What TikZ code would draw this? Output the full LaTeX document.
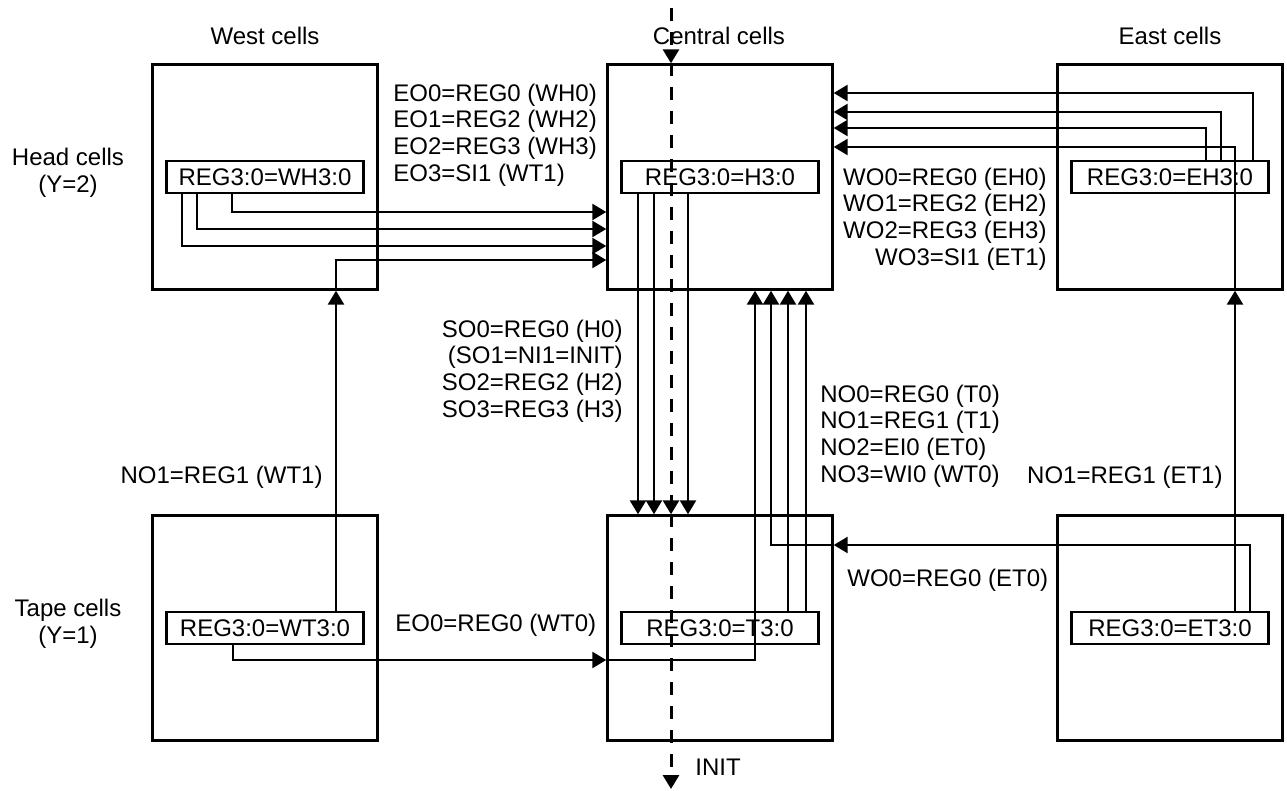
\documentclass[tikz,border=0pt]{standalone}
\usepackage{fontspec}
\setmainfont{Liberation Sans}
\usepackage{tikz}
\usetikzlibrary{arrows.meta, calc}
\tikzset{
  cellbox/.style={
    draw, line width=1.2pt, minimum width=112.5pt, minimum height=112.5pt
  },
  regbox/.style={
    draw, line width=1.2pt, minimum width=98.5pt, minimum height=16pt,
    inner sep=0pt, font=\fontsize{12}{13.4}\selectfont
  },
  wirearrow/.style={
    -{Triangle[length=7pt,width=8pt]}, line width=1.3pt
  },
  initarrow/.style={
    -{Triangle[length=7pt,width=8pt]}, line width=1.5pt,
    dash pattern=on 6.5pt off 5.5pt
  },
  wirelabel/.style={
    font=\fontsize{12}{13.4}\selectfont, inner sep=0pt
  },
}

\begin{document}
\begin{tikzpicture}[x=0.5pt, y=-0.5pt]
  \useasboundingbox (0,0) rectangle (1287,791);

  % Cells
  \node[cellbox] (whead) at (265,177) {};
  \node[cellbox] (chead) at (720,177) {};
  \node[cellbox] (ehead) at (1170,177) {};
  \node[cellbox] (wtape) at (265,628) {};
  \node[cellbox] (ctape) at (720,628) {};
  \node[cellbox] (etape) at (1170,628) {};

  % Registers
  \node[regbox] (whreg) at (whead.center) {REG3:0=WH3:0};
  \node[regbox] (chreg) at (chead.center) {REG3:0=H3:0};
  \node[regbox] (ehreg) at (ehead.center) {REG3:0=EH3:0};
  \node[regbox] (wtreg) at (wtape.center) {REG3:0=WT3:0};
  \node[regbox] (ctreg) at (ctape.center) {REG3:0=T3:0};
  \node[regbox] (etreg) at (etape.center) {REG3:0=ET3:0};

  % Row and column titles
  \node[wirelabel] (wtitle) at (265,36) {West cells};
  \node[wirelabel] (ctitle) at (719,36) {Central cells};
  \node[wirelabel] (etitle) at (1170,36) {East cells};
  \node[wirelabel, align=center] (htitle) at (68,173) {Head cells\\(Y=2)};
  \node[wirelabel, align=center] (ttitle) at (68,624) {Tape cells\\(Y=1)};

  % West head -> central head
  \draw[wirearrow] ($(whreg.south)+(-33,0)$) |- ($(chead.west)+(0,35)$);
  \draw[wirearrow] ($(whreg.south)+(-68,0)$) |- ($(chead.west)+(0,52)$);
  \draw[wirearrow] ($(whreg.south)+(-83,0)$) |- ($(chead.west)+(0,69)$);
  \draw[wirearrow] ($(whead.south)+(71,0)$) |- ($(chead.west)+(0,83)$);
  \node[wirelabel, align=left, anchor=west] (eolabel) at (393,135)
    {EO0=REG0 (WH0)\\EO1=REG2 (WH2)\\EO2=REG3 (WH3)\\EO3=SI1 (WT1)};

  % East head -> central head
  \draw[wirearrow] ($(ehreg.north)+(83,0)$) |- ($(chead.east)+(0,-84)$);
  \draw[wirearrow] ($(ehreg.north)+(51,0)$) |- ($(chead.east)+(0,-65)$);
  \draw[wirearrow] ($(ehreg.north)+(36,0)$) |- ($(chead.east)+(0,-49)$);
  \draw[wirearrow] ($(ehead.south)+(65,0)$) |- ($(chead.east)+(0,-30)$);
  \node[wirelabel, align=right, anchor=east] (wolabel) at (1047,219)
    {WO0=REG0 (EH0)\\WO1=REG2 (EH2)\\WO2=REG3 (EH3)\\WO3=SI1 (ET1)};

  % Central head -> central tape
  \draw[wirearrow] ($(chreg.south)+(-82,0)$) -- ($(ctape.north)+(-82,0)$);
  \draw[wirearrow] ($(chreg.south)+(-66,0)$) -- ($(ctape.north)+(-66,0)$);
  \draw[wirearrow] ($(chreg.south)+(-32,0)$) -- ($(ctape.north)+(-32,0)$);
  \node[wirelabel, align=right, anchor=east] (solabel) at (623,371)
    {SO0=REG0 (H0)\\(SO1=NI1=INIT)\\SO2=REG2 (H2)\\SO3=REG3 (H3)};

  % Tapes -> heads
  \draw[wirearrow] ($(wtreg.north)+(71,0)$) -- ($(whead.south)+(71,0)$);
  \draw[wirearrow] ($(etreg.north)+(65,0)$) -- ($(ehead.south)+(65,0)$);
  \draw[wirearrow] ($(ctreg.north)+(68,0)$) -- ($(chead.south)+(68,0)$);
  \draw[wirearrow] ($(ctreg.north)+(86,0)$) -- ($(chead.south)+(86,0)$);
  \node[wirelabel, anchor=east] (wnolabel) at (323,477) {NO1=REG1 (WT1)};
  \node[wirelabel, anchor=east] (enolabel) at (1223,477) {NO1=REG1 (ET1)};
  \node[wirelabel, align=left, anchor=west] (nolabel) at (820,436)
    {NO0=REG0 (T0)\\NO1=REG1 (T1)\\NO2=EI0 (ET0)\\NO3=WI0 (WT0)};

  % Neighbour tapes -> central tape
  \draw[wirearrow] ($(wtreg.south)+(-32,0)$) |- ($(ctape.west)+(0,32)$);
  \draw[wirearrow] ($(ctape.west)+(0,32)$) -| ($(chead.south)+(35,0)$);
  \draw[wirearrow] ($(etreg.north)+(80,0)$) |- ($(ctape.east)+(0,-83)$);
  \draw[wirearrow] ($(ctape.east)+(0,-83)$) -| ($(chead.south)+(51,0)$);
  \node[wirelabel, anchor=west] (weolabel) at (395,625) {EO0=REG0 (WT0)};
  \node[wirelabel, anchor=west] (ewolabel) at (847,580) {WO0=REG0 (ET0)};

  % INIT
  \coordinate (initin) at (671,8);
  \coordinate (initout) at (671,789);
  \draw[initarrow] (initin) -- ($(chead.north)+(-49,0)$);
  \draw[initarrow] ($(chead.north)+(-49,0)$) -- ($(ctape.north)+(-49,0)$);
  \draw[initarrow] ($(ctape.north)+(-49,0)$) -- (initout);
  \node[wirelabel, anchor=west] (initlabel) at (695,767) {INIT};
\end{tikzpicture}
\end{document}
